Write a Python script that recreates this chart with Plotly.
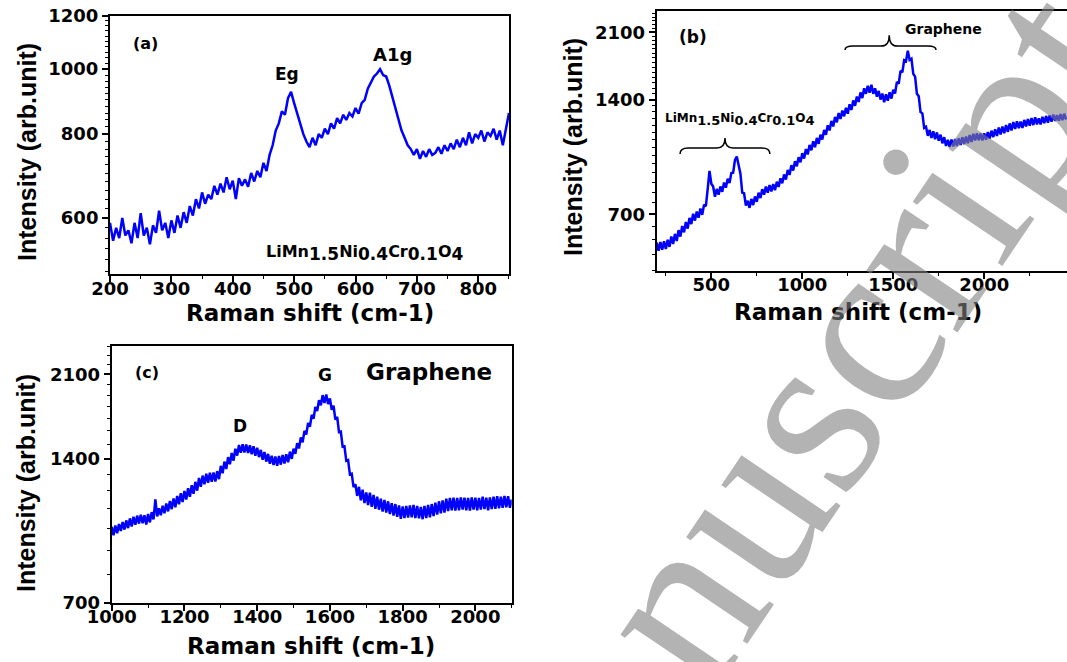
import math
import plotly.graph_objects as go

# ---------------- spectra (intensity in arb. units) ----------------
# (a) LiMn1.5Ni0.4Cr0.1O4, 200-850 cm-1 sampled every 5 cm-1
spinel_start, spinel_step = 200, 5
spinel_intensity = [
    590, 555, 580, 560, 600, 565, 575, 550, 590, 560,
    610, 565, 580, 548, 585, 570, 615, 575, 590, 560,
    595, 570, 605, 580, 612, 590, 625, 605, 640, 620,
    655, 630, 650, 640, 670, 650, 675, 655, 690, 662,
    682, 640, 688, 670, 685, 668, 700, 680, 705, 690,
    725, 705, 745, 770, 810, 830, 865, 855, 905, 925,
    890, 860, 825, 800, 780, 765, 790, 770, 800, 790,
    815, 800, 830, 815, 845, 830, 855, 840, 860, 850,
    875, 858, 890, 900, 935, 955, 975, 985, 1000, 980,
    975, 945, 910, 870, 840, 810, 790, 770, 760, 745,
    760, 735, 755, 740, 760, 745, 750, 765, 748, 770,
    755, 775, 760, 785, 765, 790, 770, 805, 775, 800,
    790, 810, 780, 805, 795, 815, 785, 810, 770, 820,
    860,
]

# (b) composite, 200-2450 cm-1 sampled every 10 cm-1
composite_start, composite_step = 200, 10
composite_intensity = [
    590, 562, 592, 565, 595, 568, 600, 575, 612, 585,
    622, 596, 636, 612, 652, 628, 668, 642, 685, 660,
    702, 674, 712, 686, 725, 698, 742, 735, 815, 910,
    842, 828, 778, 816, 788, 828, 802, 848, 822, 868,
    845, 898, 900, 972, 992, 935, 895, 798, 795, 738,
    760, 728, 768, 740, 780, 755, 798, 772, 815, 788,
    828, 798, 835, 804, 840, 810, 852, 826, 870, 844,
    890, 864, 915, 888, 942, 912, 965, 936, 988, 958,
    1012, 980, 1038, 1005, 1064, 1030, 1088, 1050, 1110, 1072,
    1132, 1100, 1165, 1132, 1198, 1162, 1230, 1190, 1260, 1220,
    1290, 1245, 1310, 1265, 1332, 1285, 1360, 1315, 1392, 1348,
    1425, 1380, 1462, 1412, 1498, 1450, 1522, 1460, 1530, 1450,
    1498, 1425, 1475, 1400, 1452, 1378, 1445, 1390, 1462, 1408,
    1485, 1452, 1558, 1540, 1665, 1650, 1775, 1765, 1880, 1778,
    1792, 1635, 1608, 1450, 1428, 1298, 1288, 1180, 1188, 1125,
    1165, 1110, 1155, 1102, 1148, 1092, 1132, 1075, 1115, 1058,
    1098, 1052, 1100, 1055, 1102, 1058, 1108, 1064, 1115, 1070,
    1120, 1076, 1130, 1084, 1138, 1094, 1142, 1096, 1140, 1094,
    1142, 1098, 1150, 1106, 1160, 1116, 1170, 1124, 1182, 1134,
    1190, 1142, 1200, 1152, 1212, 1162, 1222, 1172, 1228, 1178,
    1225, 1180, 1238, 1190, 1245, 1195, 1252, 1200, 1258, 1205,
    1250, 1205, 1262, 1214, 1268, 1218, 1272, 1225, 1278, 1230,
    1275, 1232, 1282, 1236, 1285, 1240,
]

# (c) graphene, 1000-2100 cm-1 sampled every 5 cm-1
graphene_start, graphene_step = 1000, 5
graphene_intensity = [
    1008, 968, 1015, 978, 1022, 988, 1032, 995, 1040, 1002,
    1050, 1010, 1058, 1018, 1064, 1024, 1068, 1026, 1066, 1020,
    1072, 1030, 1082, 1045, 1150, 1060, 1102, 1066, 1116, 1076,
    1128, 1086, 1142, 1098, 1155, 1108, 1170, 1124, 1185, 1136,
    1198, 1150, 1214, 1165, 1232, 1182, 1252, 1200, 1275, 1222,
    1290, 1238, 1302, 1246, 1308, 1252, 1310, 1254, 1318, 1268,
    1352, 1305, 1380, 1332, 1410, 1362, 1438, 1386, 1468, 1420,
    1495, 1440, 1500, 1442, 1498, 1438, 1492, 1430, 1485, 1420,
    1475, 1410, 1460, 1392, 1445, 1380, 1432, 1366, 1420, 1358,
    1415, 1352, 1418, 1360, 1425, 1368, 1430, 1375, 1448, 1398,
    1468, 1432, 1508, 1470, 1550, 1515, 1600, 1572, 1662, 1632,
    1728, 1695, 1795, 1760, 1855, 1810, 1900, 1830, 1905, 1820,
    1870, 1770, 1805, 1690, 1710, 1592, 1595, 1482, 1485, 1385,
    1390, 1298, 1302, 1220, 1238, 1170, 1222, 1145, 1205, 1130,
    1190, 1120, 1188, 1110, 1175, 1100, 1165, 1095, 1155, 1085,
    1148, 1080, 1140, 1072, 1130, 1065, 1125, 1058, 1118, 1048,
    1112, 1052, 1115, 1054, 1118, 1056, 1120, 1052, 1115, 1050,
    1110, 1046, 1115, 1052, 1120, 1056, 1125, 1062, 1132, 1070,
    1140, 1076, 1145, 1080, 1155, 1088, 1158, 1092, 1160, 1090,
    1158, 1092, 1162, 1095, 1160, 1092, 1158, 1090, 1162, 1095,
    1160, 1092, 1158, 1095, 1165, 1098, 1160, 1092, 1162, 1098,
    1165, 1100, 1168, 1102, 1165, 1105, 1170, 1108, 1168, 1105,
    1150,
]

# ---------------- axis ticks and ranges ----------------
a_xticks = [200, 300, 400, 500, 600, 700, 800]
a_yticks = [600, 800, 1000, 1200]
b_xticks = [500, 1000, 1500, 2000]
b_yticks = [700, 1400, 2100]
c_xticks = [1000, 1200, 1400, 1600, 1800, 2000]
c_yticks = [700, 1400, 2100]

a_xrange, a_yrange = (200, 850), (495, 1200)
b_xrange, b_yrange = (200, 2455), (498, 2390)
c_xrange, c_yrange = (1000, 2100), (700, 2410)

# brace annotations in panel (b): (x start, x end, x tip) in cm-1
spinel_brace = (328, 822, 575)
graphene_brace = (1235, 1735, 1478)

X_TITLE = "Raman shift (cm-1)"
Y_TITLE = "Intensity (arb.unit)"

BLUE = "#0000ff"
TICK_FONT = dict(family="DejaVu Sans", size=18, color="black", weight="bold")


def formula(size):
    sub = lambda s: f"<sub><span style='font-size:{size + 1}px'>{s}</span></sub>"
    return f"LiMn{sub('1.5')}Ni{sub('0.4')}Cr{sub('0.1')}O{sub('4')}"


def grid(start, step, values):
    return [start + i * step for i in range(len(values))]


def minor_vals(lo, hi, step, majors):
    return [v for v in range(lo, hi + 1, step) if v not in majors]


fig = go.Figure()
fig.add_trace(go.Scatter(x=grid(spinel_start, spinel_step, spinel_intensity),
                         y=spinel_intensity, mode="lines",
                         line=dict(color=BLUE, width=2.5), xaxis="x", yaxis="y"))
fig.add_trace(go.Scatter(x=grid(composite_start, composite_step, composite_intensity),
                         y=composite_intensity, mode="lines",
                         line=dict(color=BLUE, width=2.5), xaxis="x2", yaxis="y2"))
fig.add_trace(go.Scatter(x=grid(graphene_start, graphene_step, graphene_intensity),
                         y=graphene_intensity, mode="lines",
                         line=dict(color=BLUE, width=2.5), xaxis="x3", yaxis="y3"))


def axis(domain, anchor, rng, ticks, minor, log=False, mirror=True, is_x=True):
    return dict(
        domain=domain, anchor=anchor, automargin=False,
        range=[math.log10(rng[0]), math.log10(rng[1])] if log else list(rng),
        type="log" if log else "linear",
        tickmode="array", tickvals=ticks, ticktext=[str(t) for t in ticks],
        showline=True, linecolor="black", linewidth=2, mirror=mirror,
        ticks="outside", ticklen=6, tickwidth=1.5, tickcolor="black",
        ticklabelstandoff=-9 if is_x else 0,
        showgrid=False, zeroline=False, tickfont=TICK_FONT,
        minor=dict(tickmode="array", tickvals=minor, ticks="outside",
                   ticklen=3, tickwidth=1, tickcolor="black", showgrid=False),
    )


fig.update_layout(
    width=1067, height=662,
    margin=dict(l=0, r=0, t=0, b=0, autoexpand=False),
    paper_bgcolor="white", plot_bgcolor="white",
    showlegend=False,
    xaxis=axis([0.1031, 0.4770], "y", a_xrange, a_xticks,
               minor_vals(250, 850, 100, a_xticks)),
    yaxis=axis([0.5861, 0.9758], "x", a_yrange, a_yticks,
               minor_vals(500, 1180, 20, a_yticks), log=True, is_x=False),
    xaxis2=axis([0.6155, 1.0], "y2", b_xrange, b_xticks,
                minor_vals(250, 2250, 250, b_xticks)),
    yaxis2=axis([0.5911, 0.9834], "x2", b_yrange, b_yticks,
                minor_vals(500, 2350, 50, b_yticks), log=True, mirror=False, is_x=False),
    xaxis3=axis([0.1047, 0.4796], "y3", c_xrange, c_xticks,
                minor_vals(1100, 2100, 200, c_xticks)),
    yaxis3=axis([0.0896, 0.4778], "x3", c_yrange, c_yticks,
                minor_vals(700, 2400, 100, c_yticks), log=True, is_x=False),
)


def brace_path(x0, x1, xm, y_end, y_body, y_tip, curl):
    return (f"M {x0},{y_end} Q {x0},{y_body} {x0 + curl},{y_body} "
            f"L {xm - curl},{y_body} Q {xm},{y_body} {xm},{y_tip} "
            f"Q {xm},{y_body} {xm + curl},{y_body} "
            f"L {x1 - curl},{y_body} Q {x1},{y_body} {x1},{y_end}")


for (x0, x1, xm), (ye, yb, yt) in [(spinel_brace, (0.449, 0.472, 0.511)),
                                  (graphene_brace, (0.850, 0.865, 0.907))]:
    fig.add_shape(type="path", xref="x2", yref="y2 domain",
                  path=brace_path(x0, x1, xm, ye, yb, yt, 45),
                  line=dict(color="black", width=1.5))


def label(text, x, y, size, family="DejaVu Sans", angle=0):
    fig.add_annotation(text=text, x=x, y=y, xref="paper", yref="paper",
                       showarrow=False, xanchor="center", yanchor="middle",
                       textangle=angle,
                       font=dict(family=family, size=size, color="black", weight="bold"))


# axis titles
for xc, yc in [(0.2905, 0.527), (0.8041, 0.529), (0.2915, 0.0242)]:
    label(X_TITLE, xc, yc, 23)
for xc, yc in [(0.0253, 0.7704), (0.5370, 0.7779), (0.0244, 0.2704)]:
    label(Y_TITLE, xc, yc, 25, family="Liberation Sans", angle=-90)

# panel labels
label("(a)", 0.1368, 0.935, 16)
label("Eg", 0.269, 0.888, 17)
label("A1g", 0.3674, 0.917, 18)
label(formula(16), 0.342, 0.618, 16)
label("(b)", 0.6495, 0.944, 17)
label("Graphene", 0.8838, 0.956, 14)
label(formula(12), 0.6935, 0.820, 12)
label("(c)", 0.1378, 0.438, 16)
label("D", 0.2249, 0.3565, 17)
label("G", 0.3046, 0.4335, 17)
label("Graphene", 0.402, 0.438, 23)

# diagonal manuscript watermark
fig.add_annotation(text="nuscript", x=0.8041, y=0.4940, xref="paper", yref="paper",
                   showarrow=False, xanchor="center", yanchor="middle", textangle=-56,
                   font=dict(family="Liberation Serif", size=240,
                             color="rgba(128,128,128,0.6)"))

fig.write_html("out.html")
